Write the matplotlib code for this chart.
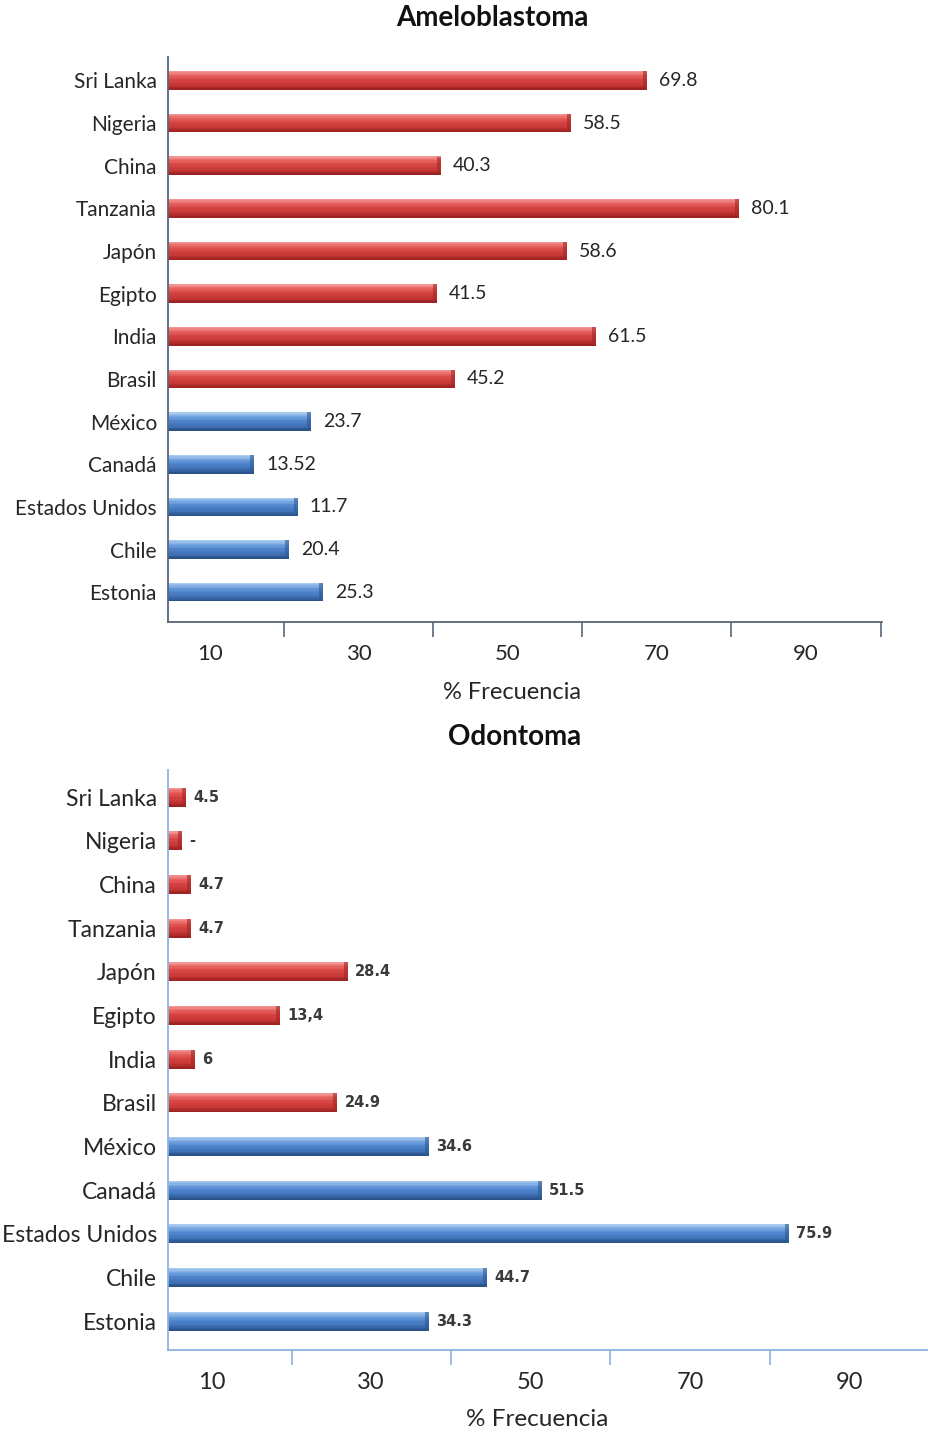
import matplotlib
matplotlib.use("Agg")
import matplotlib.pyplot as plt
import numpy as np
from matplotlib.colors import LinearSegmentedColormap

countries = ["Sri Lanka", "Nigeria", "China", "Tanzania", "Japón", "Egipto", "India",
             "Brasil", "México", "Canadá", "Estados Unidos", "Chile", "Estonia"]
is_red = [True] * 8 + [False] * 5

# Ameloblastoma: bar lengths as drawn, and printed labels
amelo_len = [68.7, 58.5, 41.0, 81.0, 57.9, 40.5, 61.8, 42.9, 23.6, 16.0, 21.8, 20.6, 25.2]
amelo_lab = ["69.8", "58.5", "40.3", "80.1", "58.6", "41.5", "61.5", "45.2",
             "23.7", "13.52", "11.7", "20.4", "25.3"]

# Odontoma
odon_len = [6.75, 6.25, 7.4, 7.4, 27.1, 18.6, 7.9, 25.75, 37.25, 51.4, 82.4, 44.5, 37.25]
odon_lab = ["4.5", "-", "4.7", "4.7", "28.4", "13,4", "6", "24.9",
            "34.6", "51.5", "75.9", "44.7", "34.3"]

tick_labels = [10, 30, 50, 70, 90]
tick_marks = [20, 40, 60, 80, 100]

FONT = "Lato"
W, H = 929, 1435
fig = plt.figure(figsize=(W / 100, H / 100), dpi=100)

red_cmap = LinearSegmentedColormap.from_list(
    "r", [(0, "#f4a09e"), (0.22, "#e86462"), (0.45, "#d84644"), (0.75, "#c63634"), (1, "#96201f")])
blue_cmap = LinearSegmentedColormap.from_list(
    "b", [(0, "#b2d0f2"), (0.22, "#7aa9e2"), (0.45, "#5187cf"), (0.75, "#3f72b8"), (1, "#264c82")])


def px_axes(x0, x1, y0, y1):
    return fig.add_axes([x0 / W, 1 - y1 / H, (x1 - x0) / W, (y1 - y0) / H])


def draw(ax, lengths, labels, xlim, ylim, axcol, valfont, valsize, valweight, valcolor, catsize,
         valoff, capw, ticksize):
    n = len(countries)
    y = np.arange(n)
    h = 0.43
    nb = 14
    for k in range(nb):
        off = -h / 2 + (k + 0.5) * h / nb
        t = (k + 0.5) / nb
        cols = [red_cmap(t) if r else blue_cmap(t) for r in is_red]
        ax.barh(y + off, lengths, height=h / nb * 1.25, left=0, color=cols,
                edgecolor="none", linewidth=0, zorder=2)
    # darker end cap
    ax.barh(y, [capw] * n, left=np.array(lengths) - capw, height=h,
            color=["#a32725" if r else "#2e5a93" for r in is_red], alpha=0.6,
            edgecolor="none", zorder=3)
    for i, (v, t) in enumerate(zip(lengths, labels)):
        ax.text(v + valoff, i, t, va="center", ha="left", fontsize=valsize,
                family=valfont, fontweight=valweight, color=valcolor)
    ax.set_xlim(*xlim)
    ax.set_ylim(*ylim)
    ax.set_yticks(y)
    ax.set_yticklabels(countries, fontsize=catsize, family=FONT, color="#262626")
    ax.tick_params(axis="y", length=0, pad=8)
    ax.set_xticks(tick_marks)
    ax.set_xticklabels([])
    ax.set_xticks(tick_labels, minor=True)
    ax.set_xticklabels([str(t) for t in tick_labels], minor=True, fontsize=ticksize,
                       family=FONT, color="#262626")
    ax.tick_params(axis="x", which="major", length=11, width=1.2, color=axcol, direction="out")
    ax.tick_params(axis="x", which="minor", length=0, pad=16)
    for s in ["top", "right"]:
        ax.spines[s].set_visible(False)
    for s in ["left", "bottom"]:
        ax.spines[s].set_color(axcol)
        ax.spines[s].set_linewidth(1.3)


ax1 = px_axes(168, 882, 57, 622)
draw(ax1, amelo_len, amelo_lab, (4.4, 100.2), (12.70, -0.55), "#56677a", FONT, 14, "normal",
     "#262626", 15, 1.6, 0.55, 16)
ax2 = px_axes(168, 929, 770, 1350)
draw(ax2, odon_len, odon_lab, (4.5, 99.6), (12.66, -0.62), "#8db2df", "DejaVu Sans", 10.5,
     "bold", "#3a3a3a", 16.5, 0.9, 0.5, 17)

fig.text(492 / W, 1 - 18 / H, "Ameloblastoma", ha="center", va="center", fontsize=20,
         fontweight="bold", family=FONT, color="#111111")
fig.text(515 / W, 1 - 737 / H, "Odontoma", ha="center", va="center", fontsize=20,
         fontweight="bold", family=FONT, color="#111111")
fig.text(512 / W, 1 - 692 / H, "% Frecuencia", ha="center", va="center", fontsize=17,
         family=FONT, color="#262626")
fig.text(537 / W, 1 - 1420 / H, "% Frecuencia", ha="center", va="center", fontsize=17.5,
         family=FONT, color="#262626")

fig.savefig("out.png", dpi=100, facecolor="white")
